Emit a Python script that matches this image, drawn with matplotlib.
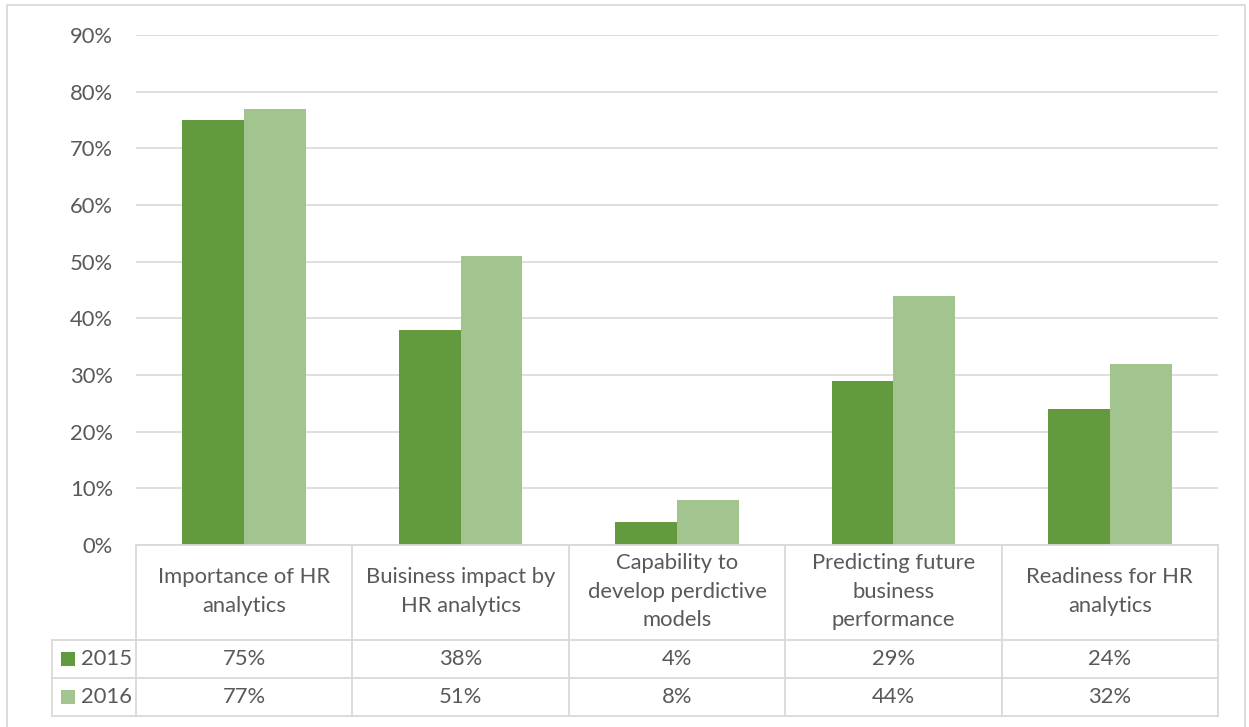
import numpy as np
import matplotlib
matplotlib.use("Agg")
import matplotlib.pyplot as plt
from matplotlib.patches import Rectangle
from matplotlib.lines import Line2D
from matplotlib.transforms import blended_transform_factory

categories = [
    "Importance of HR\nanalytics",
    "Buisiness impact by\nHR analytics",
    "Capability to\ndevelop perdictive\nmodels",
    "Predicting future\nbusiness\nperformance",
    "Readiness for HR\nanalytics",
]
series_names = ["2015", "2016"]
values_2015 = [75, 38, 4, 29, 24]
values_2016 = [77, 51, 8, 44, 32]
y_ticks = [0, 10, 20, 30, 40, 50, 60, 70, 80, 90]

colors = ["#629A3D", "#A2C58F"]
text_color = "#595959"
grid_color = "#D9D9D9"
fs = 15.8

plt.rcParams["font.family"] = ["Lato", "DejaVu Sans"]

W, H = 1249, 727
fig = plt.figure(figsize=(W / 100, H / 100), dpi=100)

# plot area in pixel coordinates
px_left, px_right, px_top, px_bottom = 136, 1218, 35, 545
ax = fig.add_axes([px_left / W, 1 - px_bottom / H,
                   (px_right - px_left) / W, (px_bottom - px_top) / H])

n = len(categories)
x = np.arange(n)
bar_w = 1 / 3.5  # gap width 150%
series = [values_2015, values_2016]
for i, (vals, col) in enumerate(zip(series, colors)):
    ax.bar(x + (i - 0.5) * bar_w, vals, width=bar_w, color=col,
           linewidth=0, zorder=3)

ax.set_xlim(-0.5, n - 0.5)
ax.set_ylim(0, 90)
ax.set_yticks(y_ticks)
ax.set_yticklabels([f"{t}%" for t in y_ticks], color=text_color, fontsize=fs)
ax.tick_params(axis="y", length=0, pad=16.5)
ax.set_xticks([])
ax.grid(axis="y", color=grid_color, linewidth=1.2, zorder=0)
for s in ax.spines.values():
    s.set_visible(False)

# data table below the plot area
fig_px = lambda px, py: (px / W, 1 - py / H)
line_kw = dict(color=grid_color, linewidth=1.3, transform=fig.transFigure)
header_top, header_bottom = 545, 640
row_edges = [640, 678, 716]
legend_left = 52

bounds = np.linspace(px_left, px_right, n + 1)
# horizontal lines
fig.add_artist(Line2D([px_left / W, px_right / W],
                      [1 - header_top / H] * 2, **line_kw))
for yy in row_edges:
    fig.add_artist(Line2D([legend_left / W, px_right / W],
                          [1 - yy / H] * 2, **line_kw))
# vertical lines
for bx in bounds:
    fig.add_artist(Line2D([bx / W] * 2,
                          [1 - header_top / H, 1 - row_edges[-1] / H], **line_kw))
fig.add_artist(Line2D([legend_left / W] * 2,
                      [1 - row_edges[0] / H, 1 - row_edges[-1] / H], **line_kw))

# header labels
trans = blended_transform_factory(ax.transData, fig.transFigure)
header_mid = (header_top + header_bottom) / 2 - 1
for xi, cat in zip(x, categories):
    ax.text(xi, 1 - header_mid / H, cat, transform=trans, ha="center",
            va="center", fontsize=fs, color=text_color, linespacing=1.52,
            clip_on=False)

# value rows with legend keys
for r, (name, vals, col) in enumerate(zip(series_names, series, colors)):
    ymid = (row_edges[r] + row_edges[r + 1]) / 2
    fig.add_artist(Rectangle(fig_px(61, ymid + 7), 14 / W, 14 / H,
                             transform=fig.transFigure, color=col, lw=0))
    fig.text(81 / W, 1 - ymid / H, name, ha="left", va="center",
             fontsize=fs, color=text_color)
    for xi, v in zip(x, vals):
        ax.text(xi, 1 - ymid / H, f"{v}%", transform=trans, ha="center",
                va="center", fontsize=fs, color=text_color, clip_on=False)

# chart frame
fig.add_artist(Rectangle(fig_px(7, 730), (1245 - 7) / W, (730 - 5) / H,
                         transform=fig.transFigure, fill=False,
                         edgecolor=grid_color, linewidth=1.3))

fig.savefig("out.png", dpi=100, facecolor="white")
